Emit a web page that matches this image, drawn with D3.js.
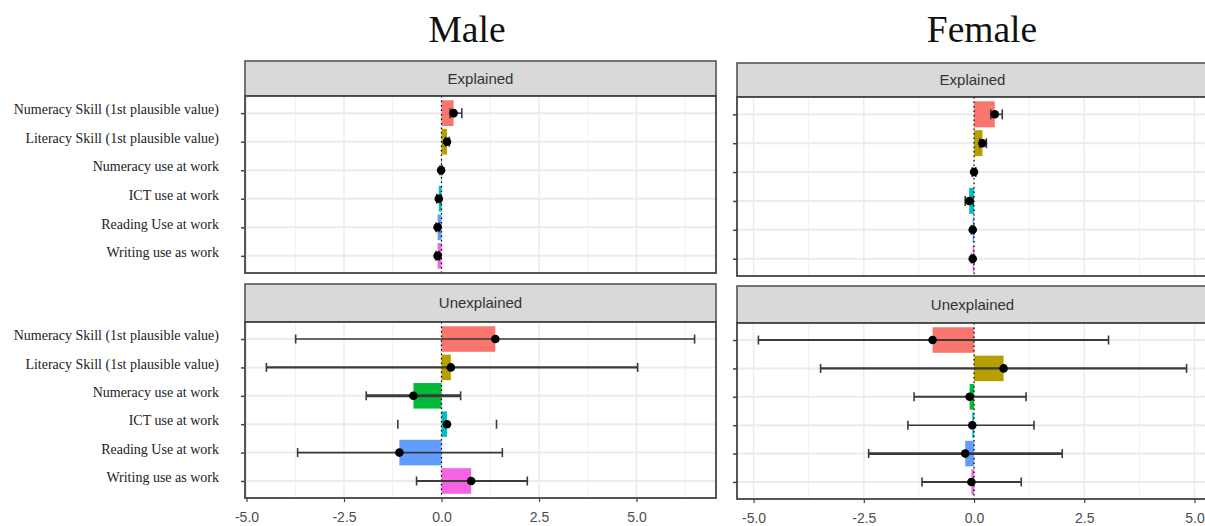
<!DOCTYPE html>
<html>
<head>
<meta charset="utf-8">
<script src="https://cdn.jsdelivr.net/npm/d3@7/dist/d3.min.js"></script>
<style>
  body { margin: 0; background: #fff; }
  svg { display: block; }
</style>
</head>
<body>
<svg id="svg" width="1205" height="526"></svg>
<script>
// categories, top to bottom
var categories = [
  "Numeracy Skill (1st plausible value)",
  "Literacy Skill (1st plausible value)",
  "Numeracy use at work",
  "ICT use at work",
  "Reading Use at work",
  "Writing use as work"
];
var facets = ["Explained", "Unexplained"];
var xTicks = [-5, -2.5, 0, 2.5, 5];

// male estimates and intervals
var maleExplained     = [0.31, 0.14, -0.01, -0.07, -0.10, -0.10];
var maleExplainedLo   = [0.22, 0.10, -0.04, -0.12, -0.14, -0.14];
var maleExplainedHi   = [0.52, 0.20, 0.02, -0.02, -0.06, -0.06];
var maleUnexplained   = [1.38, 0.24, -0.72, 0.14, -1.08, 0.76];
var maleUnexplainedLo = [-3.74, -4.49, -1.93, -1.12, -3.69, -0.64];
var maleUnexplainedHi = [6.49, 5.03, 0.49, 1.41, 1.56, 2.20];

// female estimates and intervals
var femaleExplained     = [0.47, 0.19, 0.00, -0.11, -0.03, -0.03];
var femaleExplainedLo   = [0.38, 0.13, -0.04, -0.20, -0.06, -0.06];
var femaleExplainedHi   = [0.64, 0.28, 0.04, -0.02, 0.00, 0.00];
var femaleUnexplained   = [-0.94, 0.67, -0.10, -0.04, -0.20, -0.06];
var femaleUnexplainedLo = [-4.89, -3.48, -1.36, -1.50, -2.39, -1.18];
var femaleUnexplainedHi = [3.05, 4.82, 1.18, 1.36, 2.00, 1.07];

// ggplot default hue palette
var fillColors = ["#F8766D", "#B79F00", "#00BA38", "#00BFC4", "#619CFF", "#F564E3"];

var svg = d3.select("#svg");

var sexes = [
  {
    title: "Male", titleX: 467,
    xRange: [245, 716],
    strips: [[61, 96], [284, 322]],
    panels: [[96, 273], [322, 498]],
    values: [maleExplained, maleUnexplained],
    lo: [maleExplainedLo, maleUnexplainedLo],
    hi: [maleExplainedHi, maleUnexplainedHi],
    errWidth: [[1.5, 1.5, 1.2, 1.2, 1.2, 1.2], [1.6, 2.2, 3, 0, 1.6, 2]],
    labels: true
  },
  {
    title: "Female", titleX: 982,
    xRange: [737, 1208],
    strips: [[63, 97], [286, 323]],
    panels: [[97, 276], [323, 499]],
    values: [femaleExplained, femaleUnexplained],
    lo: [femaleExplainedLo, femaleUnexplainedLo],
    hi: [femaleExplainedHi, femaleUnexplainedHi],
    errWidth: [[1.5, 1.5, 1.2, 1.5, 1.2, 1.2], [2, 2.4, 2, 1.4, 2.6, 2]],
    labels: false
  }
];

sexes.forEach(function(s) {

  // shared x scale across both facets, with ggplot's 5% expansion
  var all = d3.merge(s.lo.concat(s.hi, s.values));
  var ext = d3.extent(all);
  var pad = (ext[1] - ext[0]) * 0.05;
  var x = d3.scaleLinear().domain([ext[0] - pad, ext[1] + pad]).range(s.xRange);

  // title
  svg.append("text")
    .attr("x", s.titleX).attr("y", 42)
    .attr("text-anchor", "middle")
    .style("font-family", "'Liberation Serif', 'DejaVu Serif', serif")
    .style("font-size", "37.5px")
    .style("fill", "#111")
    .text(s.title);

  facets.forEach(function(facet, fi) {
    var top = s.panels[fi][0], bottom = s.panels[fi][1];
    var y = d3.scalePoint().domain(categories).range([top, bottom]).padding(0.6);
    var band = y.step() * 0.9;

    var rows = categories.map(function(c, i) {
      return { cat: c, value: s.values[fi][i], lo: s.lo[fi][i], hi: s.hi[fi][i],
               color: fillColors[i], ew: s.errWidth[fi][i] };
    });

    var g = svg.append("g");

    // strip
    g.append("rect")
      .attr("x", s.xRange[0]).attr("y", s.strips[fi][0])
      .attr("width", s.xRange[1] - s.xRange[0])
      .attr("height", s.strips[fi][1] - s.strips[fi][0])
      .attr("fill", "#D9D9D9").attr("stroke", "#555").attr("stroke-width", 1.6);
    g.append("text")
      .attr("x", (s.xRange[0] + s.xRange[1]) / 2)
      .attr("y", (s.strips[fi][0] + s.strips[fi][1]) / 2 + 5)
      .attr("text-anchor", "middle")
      .style("font-family", "'Liberation Sans', Arial, sans-serif")
      .style("font-size", "15px")
      .style("fill", "#333")
      .text(facet);

    // panel background
    g.append("rect")
      .attr("x", s.xRange[0]).attr("y", top)
      .attr("width", s.xRange[1] - s.xRange[0]).attr("height", bottom - top)
      .attr("fill", "#fff");

    // grid: minor then major
    var minor = d3.range(-3.75, 7, 2.5).filter(function(v) { return v > x.domain()[0] && v < x.domain()[1]; });
    g.selectAll(".minor").data(minor).enter().append("line")
      .attr("x1", function(d) { return x(d); }).attr("x2", function(d) { return x(d); })
      .attr("y1", top).attr("y2", bottom)
      .attr("stroke", "#F0F0F0").attr("stroke-width", 1);
    g.selectAll(".major").data(xTicks).enter().append("line")
      .attr("x1", function(d) { return x(d); }).attr("x2", function(d) { return x(d); })
      .attr("y1", top).attr("y2", bottom)
      .attr("stroke", "#EBEBEB").attr("stroke-width", 1.5);
    g.selectAll(".hgrid").data(categories).enter().append("line")
      .attr("x1", s.xRange[0]).attr("x2", s.xRange[1])
      .attr("y1", function(d) { return y(d); }).attr("y2", function(d) { return y(d); })
      .attr("stroke", "#EBEBEB").attr("stroke-width", 2);

    // bars
    g.selectAll(".bar").data(rows).enter().append("rect")
      .attr("x", function(d) { return Math.min(x(0), x(d.value)); })
      .attr("width", function(d) { return Math.abs(x(d.value) - x(0)); })
      .attr("y", function(d) { return y(d.cat) - band / 2; })
      .attr("height", band)
      .attr("fill", function(d) { return d.color; });

    // zero line
    g.append("line")
      .attr("x1", x(0)).attr("x2", x(0)).attr("y1", top).attr("y2", bottom)
      .attr("stroke", "#000").attr("stroke-width", 1.2)
      .attr("stroke-dasharray", "1.5,3");

    // error bars
    var cap = fi === 0 ? 5 : 4.5;
    var eb = g.selectAll(".err").data(rows).enter().append("g");
    eb.append("line")
      .attr("x1", function(d) { return x(d.lo); }).attr("x2", function(d) { return x(d.hi); })
      .attr("y1", function(d) { return y(d.cat); }).attr("y2", function(d) { return y(d.cat); })
      .attr("stroke", "#3a3a3a").attr("stroke-width", function(d) { return d.ew; });
    ["lo", "hi"].forEach(function(k) {
      eb.append("line")
        .attr("x1", function(d) { return x(d[k]); }).attr("x2", function(d) { return x(d[k]); })
        .attr("y1", function(d) { return y(d.cat) - cap; }).attr("y2", function(d) { return y(d.cat) + cap; })
        .attr("stroke", "#3a3a3a").attr("stroke-width", 1.6);
    });

    // points
    g.selectAll(".pt").data(rows).enter().append("circle")
      .attr("cx", function(d) { return x(d.value); })
      .attr("cy", function(d) { return y(d.cat); })
      .attr("r", 4.3)
      .attr("fill", "#000");

    // panel border
    g.append("rect")
      .attr("x", s.xRange[0]).attr("y", top)
      .attr("width", s.xRange[1] - s.xRange[0]).attr("height", bottom - top)
      .attr("fill", "none").attr("stroke", "#444").attr("stroke-width", 1.8);

    // y axis ticks (and labels for male)
    var yAxis = d3.axisLeft(y).tickSize(4).tickPadding(22)
      .tickFormat(s.labels ? null : function() { return ""; });
    var ya = svg.append("g").attr("transform", "translate(" + s.xRange[0] + ",0)").call(yAxis);
    ya.select(".domain").remove();
    ya.selectAll(".tick line").attr("stroke", "#444").attr("stroke-width", 1.5);
    ya.selectAll(".tick text")
      .attr("dy", "0.05em")
      .style("font-family", "'Liberation Serif', 'DejaVu Serif', serif")
      .style("font-size", "14px")
      .style("fill", "#222");

    // x axis only under the bottom facet
    if (fi === 1) {
      var xAxis = d3.axisBottom(x).tickValues(xTicks).tickSize(4).tickPadding(10)
        .tickFormat(d3.format(".1f"));
      var xa = svg.append("g").attr("transform", "translate(0," + bottom + ")").call(xAxis);
      xa.select(".domain").remove();
      xa.selectAll(".tick line").attr("stroke", "#444").attr("stroke-width", 1.2);
      xa.selectAll(".tick text")
        .style("font-family", "'Liberation Sans', Arial, sans-serif")
        .style("font-size", "14px")
        .style("fill", "#4D4D4D")
        .text(function(d) { return d3.format(".1f")(d).replace("−", "-"); });
    }
  });
});
</script>
</body>
</html>
